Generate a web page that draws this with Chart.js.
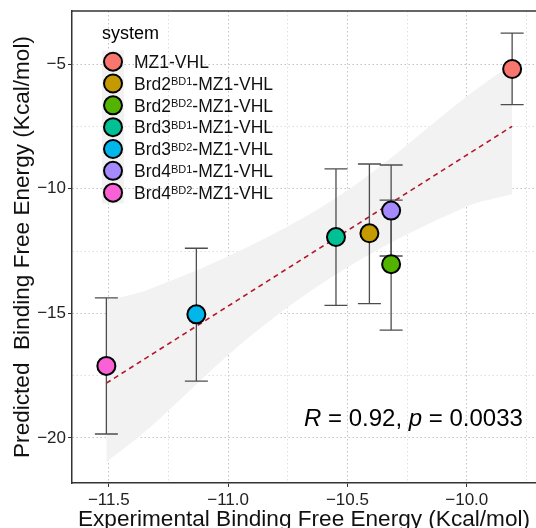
<!DOCTYPE html>
<html>
<head>
<meta charset="utf-8">
<script src="https://cdn.jsdelivr.net/npm/chart.js@4.4.0/dist/chart.umd.min.js"></script>
<style>
  html, body { margin: 0; padding: 0; background: #fff; }
  #wrap { width: 536px; height: 528px; }
</style>
</head>
<body>
<div id="wrap"><canvas id="chart"></canvas></div>
<script>
// systems (label split so the superscript can be drawn smaller)
const labelBase = ['MZ1-VHL', 'Brd2', 'Brd2', 'Brd3', 'Brd3', 'Brd4', 'Brd4'];
const labelSup  = ['', 'BD1', 'BD2', 'BD1', 'BD2', 'BD1', 'BD2'];
const labelTail = ['', '-MZ1-VHL', '-MZ1-VHL', '-MZ1-VHL', '-MZ1-VHL', '-MZ1-VHL', '-MZ1-VHL'];
const colors = ['#F8766D', '#C49A00', '#53B400', '#00C094', '#00B6EB', '#A58AFF', '#FB61D7'];

// values
const experimental = [-9.81, -10.408, -10.317, -10.548, -11.133, -10.317, -11.51];
const predicted    = [-5.2, -11.79, -13.03, -11.94, -15.04, -10.88, -17.11];
const errLow       = [-6.63, -14.61, -15.67, -14.68, -17.72, -12.70, -19.84];
const errHigh      = [-3.76, -9.01, -10.46, -9.21, -12.39, -9.05, -14.38];

// regression line and its confidence band
const fitX = [-11.51, -9.81];
const fitY = [-17.8, -7.5];
const bandX     = [-11.51, -11.33, -10.91, -10.49, -10.0, -9.81];
const bandUpper = [-14.48, -14.03, -12.3, -10.0, -6.3, -5.0];
const bandLower = [-20.97, -19.6, -15.94, -13.1, -10.72, -10.22];

// ticks
const xTicks = [-11.5, -11.25, -11.0, -10.75, -10.5, -10.25, -10.0, -9.75];
const xTickLabels = ['\u221211.5', '', '\u221211.0', '', '\u221210.5', '', '\u221210.0', ''];
const yTicks = [-20, -17.5, -15, -12.5, -10, -7.5, -5];
const yTickLabels = ['\u221220', '', '\u221215', '', '\u221210', '', '\u22125'];

const corText = [['R', true], [' = 0.92, ', false], ['p', true], [' = 0.0033', false]];

const FONT = "'Liberation Sans', Arial, sans-serif";

const pts = (xs, ys) => xs.map((x, i) => ({x: x, y: ys[i]}));

const errorBars = {
  id: 'errorBars',
  beforeDatasetDraw(chart, args) {
    if (args.index !== 0) return;
    const {ctx, scales: {x, y}} = chart;
    ctx.save();
    ctx.strokeStyle = '#4d4d4d';
    ctx.lineWidth = 1.3;
    experimental.forEach((v, i) => {
      const px = x.getPixelForValue(v);
      const lo = y.getPixelForValue(errLow[i]);
      const hi = y.getPixelForValue(errHigh[i]);
      ctx.beginPath();
      ctx.moveTo(px, lo); ctx.lineTo(px, hi);
      ctx.moveTo(px - 11.5, lo); ctx.lineTo(px + 11.5, lo);
      ctx.moveTo(px - 11.5, hi); ctx.lineTo(px + 11.5, hi);
      ctx.stroke();
    });
    ctx.restore();
  }
};

const extras = {
  id: 'extras',
  afterDraw(chart) {
    const {ctx, chartArea: a, scales: {x, y}} = chart;
    ctx.save();
    // top border of the panel
    ctx.strokeStyle = '#333';
    ctx.lineWidth = 1.5;
    ctx.beginPath();
    ctx.moveTo(a.left, a.top); ctx.lineTo(a.right, a.top);
    ctx.stroke();

    // legend
    ctx.fillStyle = '#F2F2F2';
    ctx.fillRect(102, 50.5, 22, 153);
    ctx.fillStyle = '#000';
    ctx.font = '18px ' + FONT;
    ctx.textBaseline = 'middle';
    ctx.fillText('system', 102, 34);
    labelBase.forEach((b, i) => {
      const cy = 61.7 + i * 21.83;
      ctx.beginPath();
      ctx.arc(113, cy, 9, 0, Math.PI * 2);
      ctx.fillStyle = colors[i];
      ctx.fill();
      ctx.lineWidth = 2;
      ctx.strokeStyle = '#000';
      ctx.stroke();
      ctx.fillStyle = '#111';
      ctx.textBaseline = 'alphabetic';
      let tx = 134;
      const base = cy + 6.3;
      ctx.font = '17.5px ' + FONT;
      ctx.fillText(b, tx, base);
      tx += ctx.measureText(b).width;
      if (labelSup[i]) {
        ctx.font = '11px ' + FONT;
        ctx.fillText(labelSup[i], tx, cy + 1.8);
        tx += ctx.measureText(labelSup[i]).width;
        ctx.font = '17.5px ' + FONT;
        ctx.fillText(labelTail[i], tx, base);
      }
    });

    // correlation annotation
    let tx = x.getPixelForValue(-10.682);
    const ty = y.getPixelForValue(-19.52);
    ctx.fillStyle = '#000';
    ctx.textBaseline = 'alphabetic';
    corText.forEach(([t, it]) => {
      ctx.font = (it ? 'italic ' : '') + '24px ' + FONT;
      ctx.fillText(t, tx, ty);
      tx += ctx.measureText(t).width;
    });
    ctx.restore();
  }
};

new Chart(document.getElementById('chart'), {
  type: 'scatter',
  data: {
    datasets: [
      {
        label: 'points',
        data: pts(experimental, predicted),
        pointRadius: 9,
        pointHoverRadius: 9,
        pointBackgroundColor: colors,
        pointBorderColor: '#000',
        pointBorderWidth: 2
      },
      {
        type: 'line',
        label: 'fit',
        data: pts(fitX, fitY),
        borderColor: '#B2182B',
        borderWidth: 1.6,
        borderDash: [5, 4],
        pointRadius: 0,
        fill: false
      },
      {
        type: 'line',
        label: 'upper',
        data: pts(bandX, bandUpper),
        borderWidth: 0,
        pointRadius: 0,
        tension: 0.35,
        fill: false
      },
      {
        type: 'line',
        label: 'lower',
        data: pts(bandX, bandLower),
        borderWidth: 0,
        pointRadius: 0,
        tension: 0.35,
        backgroundColor: '#F2F2F2',
        fill: '-1'
      }
    ]
  },
  options: {
    responsive: true,
    maintainAspectRatio: false,
    animation: false,
    layout: { autoPadding: false, padding: { top: 11, right: 0, left: 0, bottom: 0 } },
    plugins: { legend: { display: false }, tooltip: { enabled: false } },
    scales: {
      x: {
        type: 'linear',
        min: -11.654,
        max: -9.71,
        afterBuildTicks: s => { s.ticks = xTicks.map(v => ({value: v})); },
        afterFit: s => { s.height = 45; s.paddingLeft = 0; s.paddingRight = 0; },
        ticks: {
          autoSkip: false, maxRotation: 0, padding: 3,
          color: '#222', font: { family: FONT, size: 17 },
          callback: v => xTickLabels[xTicks.indexOf(v)]
        },
        grid: {
          color: c => xTickLabels[c.index] ? '#c2c2c2' : '#dedede',
          lineWidth: 1,
          tickLength: 4,
          tickColor: c => xTickLabels[c.index] ? '#333' : 'rgba(0,0,0,0)'
        },
        border: { display: true, color: '#333', width: 1.5, dash: [1.5, 2.5] },
        title: {
          display: true,
          text: 'Experimental Binding Free Energy (Kcal/mol)',
          color: '#111',
          font: { family: FONT, size: 22.6, lineHeight: '16px' },
          padding: 0
        }
      },
      y: {
        type: 'linear',
        min: -21.805,
        max: -2.874,
        afterBuildTicks: s => { s.ticks = yTicks.map(v => ({value: v})); },
        afterFit: s => { s.width = 72; s.paddingTop = 0; s.paddingBottom = 0; },
        ticks: {
          autoSkip: false, padding: 2,
          color: '#222', font: { family: FONT, size: 17 },
          callback: v => yTickLabels[yTicks.indexOf(v)]
        },
        grid: {
          color: c => yTickLabels[c.index] ? '#c2c2c2' : '#dedede',
          lineWidth: 1,
          tickLength: 4,
          tickColor: c => yTickLabels[c.index] ? '#333' : 'rgba(0,0,0,0)'
        },
        border: { display: true, color: '#333', width: 1.5, dash: [1.5, 2.5] },
        title: {
          display: true,
          text: 'Predicted  Binding Free Energy (Kcal/mol)',
          color: '#111',
          font: { family: FONT, size: 22.6, lineHeight: 1.2 },
          padding: { top: 9, bottom: 0 }
        }
      }
    }
  },
  plugins: [errorBars, extras]
});
</script>
</body>
</html>
